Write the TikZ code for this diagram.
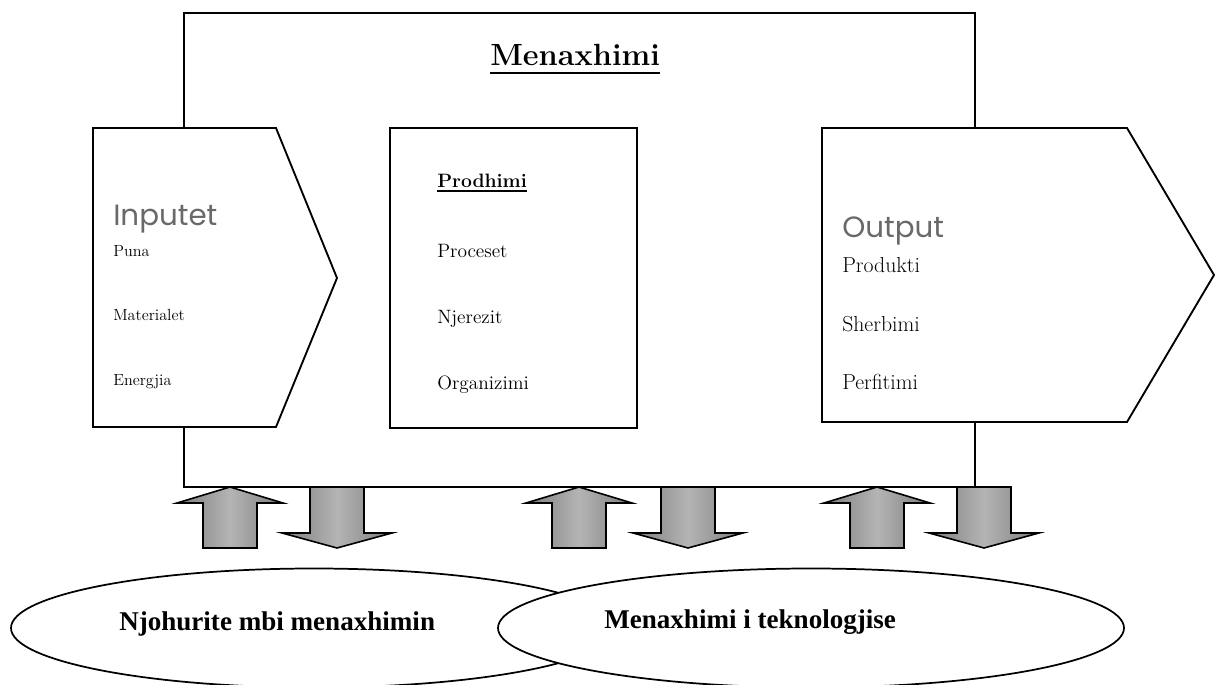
\documentclass[tikz,border=0pt]{standalone}
\usepackage{fontspec}
\newfontfamily\timesf{Liberation Serif}
\newfontfamily\gothic{Poppins}
\definecolor{labgray}{RGB}{105,105,105}
\definecolor{txt}{RGB}{0,0,0}
\definecolor{arrdark}{RGB}{125,125,125}
\definecolor{arrlight}{RGB}{180,180,180}
\tikzset{
  boxline/.style={draw=black, line width=1.4pt, fill=white, line join=miter},
  frameline/.style={draw=black, line width=1.2pt},
  blockarrow/.style={draw=black, line width=1.2pt, line join=miter,
    left color=arrdark, right color=arrdark, middle color=arrlight},
  ell/.style={draw=black, line width=1.3pt, fill=white},
  lbl/.style={anchor=base west, inner sep=0pt, text=txt},
  itemA/.style={lbl, font=\fontsize{12.1pt}{14pt}\selectfont},
  itemB/.style={lbl, font=\fontsize{14.5pt}{17pt}\selectfont},
  itemC/.style={lbl, font=\fontsize{16.3pt}{19pt}\selectfont},
  gothlbl/.style={anchor=base west, inner sep=0pt, text=labgray, font=\gothic\fontsize{22pt}{26pt}\selectfont},
  elltxt/.style={anchor=base west, inner sep=0pt, text=black, font=\timesf\bfseries\fontsize{20.3pt}{24pt}\selectfont},
}
\begin{document}
\begin{tikzpicture}[x=0.75pt,y=-0.75pt]
\useasboundingbox (0,0) rectangle (1215,685);
\clip (0,0) rectangle (1215,685);

% outer management frame
\draw[frameline] (184,13) rectangle (975,487);
\node[lbl, font=\bfseries\fontsize{23pt}{27pt}\selectfont] (title) at (490,66) {Menaxhimi};
\draw[line width=1.9pt] ([yshift=-5.3pt]title.base west) -- ([yshift=-5.3pt]title.base east);

% inputs pentagon
\draw[boxline] (93,128) -- (276,128) -- (337,278) -- (276,427) -- (93,427) -- cycle;
\node[gothlbl] (inp) at (113,225) {Inputet};
\node[itemA] (puna) at (113,256) {Puna};
\node[itemA] (mat) at (113,320) {Materialet};
\node[itemA] (ene) at (113,385) {Energjia};

% production box
\draw[boxline] (390,128) rectangle (637,428);
\node[lbl, font=\bfseries\fontsize{14.5pt}{17pt}\selectfont] (prod) at (437,187) {Prodhimi};
\draw[line width=1.1pt] ([yshift=-3pt]prod.base west) -- ([yshift=-3pt]prod.base east);
\node[itemB] (proc) at (437,257) {Proceset};
\node[itemB] (nje) at (437,323) {Njerezit};
\node[itemB] (org) at (437,389) {Organizimi};

% output pentagon
\draw[boxline] (822,128) -- (1127,128) -- (1214,275) -- (1127,422) -- (822,422) -- cycle;
\node[gothlbl] (outp) at (842,237) {Output};
\node[itemC] (produ) at (842,272) {Produkti};
\node[itemC] (sher) at (842,331) {Sherbimi};
\node[itemC] (perf) at (842,389) {Perfitimi};

% block arrows: up (to management) and down (from management)
\foreach \u/\d in {230/337, 579/688, 877/984}{
  \draw[blockarrow] (\u,487) -- (\u+53,503) -- (\u+27,503) -- (\u+27,548)
        -- (\u-27,548) -- (\u-27,503) -- (\u-53,503) -- cycle;
  \draw[blockarrow] (\d-27,487) -- (\d+27,487) -- (\d+27,533) -- (\d+55,533)
        -- (\d,548) -- (\d-55,533) -- (\d-27,533) -- cycle;
}

% knowledge ellipses
\draw[ell] (314,628) ellipse [x radius=303, y radius=59.5];
\node[elltxt] (e1) at (119,630) {Njohurite mbi menaxhimin};
\draw[ell] (811,628) ellipse [x radius=313, y radius=59.5];
\node[elltxt] (e2) at (604,628) {Menaxhimi i teknologjise};
\end{tikzpicture}
\end{document}
